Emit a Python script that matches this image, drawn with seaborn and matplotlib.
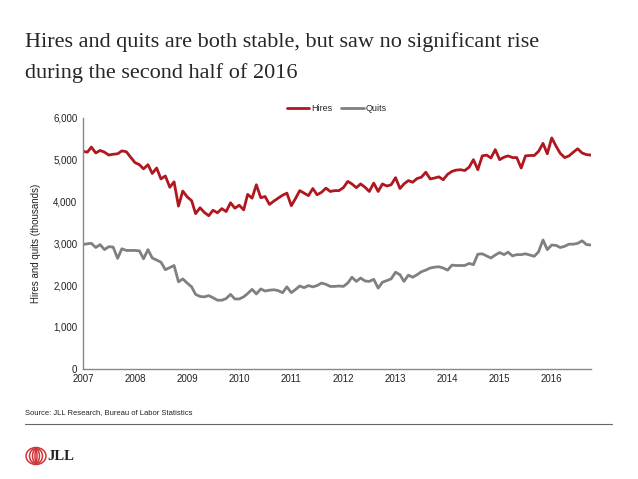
import numpy as np
import pandas as pd
import matplotlib
matplotlib.use("Agg")
import matplotlib.pyplot as plt
from matplotlib.patches import Ellipse
import seaborn as sns

# monthly values, Jan 2007 - Oct 2016 (thousands)
hires = [
    5200, 5180, 5300, 5160, 5220, 5180, 5110, 5130, 5140, 5210, 5190, 5060,
    4930, 4880, 4780, 4880, 4670, 4800, 4540, 4610, 4340, 4470, 3890, 4250,
    4110, 4020, 3710, 3850, 3740, 3660, 3790, 3730, 3830, 3760, 3970, 3840,
    3910, 3800, 4170, 4080, 4400, 4090, 4120, 3930, 4010, 4080, 4150, 4200,
    3900, 4080, 4260, 4200, 4140, 4310, 4160, 4220, 4320, 4240, 4260, 4260,
    4330, 4480, 4420, 4330, 4420, 4340, 4240, 4440, 4240, 4420, 4370, 4400,
    4570, 4310, 4420, 4500, 4460, 4550, 4580, 4700, 4540, 4560, 4590, 4520,
    4650, 4720, 4750, 4760, 4740, 4820, 5000, 4760, 5090, 5110, 5040, 5240,
    5000, 5060, 5090, 5050, 5050, 4800, 5090, 5100, 5100, 5200, 5390, 5140,
    5520, 5320, 5150, 5050, 5090, 5180, 5260, 5160, 5120, 5110,
]
quits = [
    2970, 2990, 3000, 2900, 2970, 2850, 2920, 2910, 2640, 2870, 2830, 2830,
    2830, 2820, 2630, 2850, 2650, 2600, 2550, 2370, 2420, 2470, 2080, 2150,
    2050, 1960, 1780, 1730, 1720, 1750, 1700, 1640, 1640, 1680, 1780, 1670,
    1670, 1720, 1800, 1900, 1790, 1910, 1860, 1880, 1890, 1870, 1820, 1960,
    1820, 1900, 1980, 1940, 1990, 1960, 1990, 2050, 2020, 1970, 1970, 1980,
    1970, 2050, 2190, 2090, 2170, 2100, 2090, 2140, 1930, 2070, 2110, 2150,
    2310, 2250, 2090, 2240, 2190, 2250, 2320, 2360, 2410, 2430, 2440, 2410,
    2360, 2480, 2470, 2470, 2470, 2520, 2490, 2740, 2750, 2700, 2650, 2720,
    2780, 2730, 2790, 2700, 2730, 2730, 2750, 2720, 2690, 2800, 3080, 2850,
    2960, 2950, 2900, 2930, 2980, 2980, 3000, 3060, 2970, 2960,
]
months = pd.date_range("2007-01-01", periods=len(hires), freq="MS")
year_ticks = [str(y) for y in range(2007, 2017)]

df = pd.DataFrame({"month": months, "Hires": hires, "Quits": quits})
long_df = df.melt(id_vars="month", var_name="series", value_name="value")

sns.set_style("white")
plt.rcParams["font.family"] = ["Liberation Sans Narrow", "Liberation Sans", "DejaVu Sans"]

fig = plt.figure(figsize=(6.38, 4.79), dpi=100)
ax = fig.add_axes([0.130, 0.230, 0.796, 0.524])

palette = {"Hires": "#B0171F", "Quits": "#808080"}
sns.lineplot(data=long_df, x="month", y="value", hue="series", palette=palette,
             linewidth=2.0, ax=ax)

ax.set_xlim(months[0], months[-1])
ax.set_ylim(0, 6000)
ax.set_yticks(range(0, 6001, 1000))
ax.yaxis.set_major_formatter(matplotlib.ticker.FuncFormatter(lambda v, p: f"{int(v):,}"))
ax.set_xticks(pd.to_datetime([f"{y}-01-01" for y in year_ticks]))
ax.set_xticklabels(year_ticks)
ax.tick_params(axis="both", labelsize=7, length=0, pad=4, colors="#222222")
ax.set_xlabel("")
ax.set_ylabel("Hires and quits (thousands)", fontsize=7, color="#222222", labelpad=9)
sns.despine(ax=ax)
for s in ("left", "bottom"):
    ax.spines[s].set_color("#888888")
    ax.spines[s].set_linewidth(1.0)

leg = ax.legend(loc="lower center", bbox_to_anchor=(0.5, 0.985), ncol=2, frameon=False,
                fontsize=6.5, handlelength=2.5, handletextpad=0.2, columnspacing=1.0)
for line in leg.get_lines():
    line.set_linewidth(2.0)

# title
fig.text(25 / 638, 1 - 42 / 479, "Hires and quits are both stable, but saw no significant rise",
         fontsize=16, family="Liberation Serif", va="center", ha="left")
fig.text(25 / 638, 1 - 73 / 479, "during the second half of 2016",
         fontsize=16, family="Liberation Serif", va="center", ha="left")

# footer
fig.text(25 / 638, 1 - 413 / 479, "Source: JLL Research, Bureau of Labor Statistics",
         fontsize=5.5, va="center", ha="left", color="#222222")
fig.add_artist(plt.Line2D([25 / 638, 612 / 638], [1 - 424 / 479, 1 - 424 / 479],
                          color="#666666", linewidth=0.8))

# logo
cx, cy = 36 / 638, 1 - 456 / 479
for w, h in [(20, 17), (13, 15), (7, 13), (2, 11)]:
    fig.add_artist(Ellipse((cx, cy), w / 638, h / 479, transform=fig.transFigure,
                           fill=False, edgecolor="#D0353A", linewidth=1.1))
fig.text(47 / 638, cy, "JLL", fontsize=10.5, family="Liberation Serif", fontweight="bold",
         va="center", ha="left", color="#222222")

fig.savefig("out.png", dpi=100)
